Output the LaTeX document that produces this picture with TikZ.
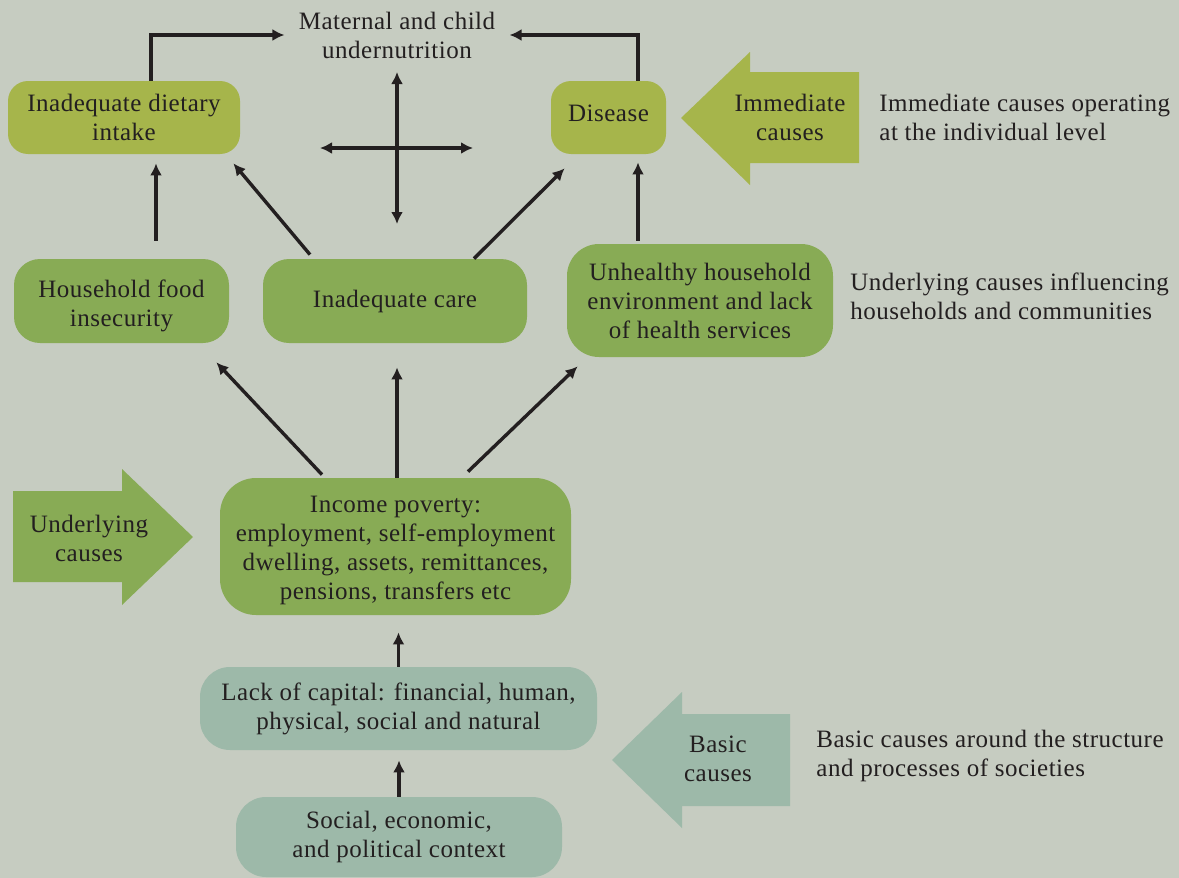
\documentclass[tikz,border=0pt]{standalone}
\usepackage{fontspec}
\setmainfont[LetterSpace=2]{Liberation Serif}
\usetikzlibrary{positioning}
\usetikzlibrary{arrows.meta,calc}
\definecolor{bgcol}{HTML}{C6CCC1}
\definecolor{olive}{HTML}{A6B54B}
\definecolor{leaf}{HTML}{88AB55}
\definecolor{sage}{HTML}{9DB9A9}
\definecolor{ink}{HTML}{231F20}

\begin{document}
\begin{tikzpicture}[x=0.5pt, y=-0.5pt,
  every node/.style={font=\fontsize{12.5}{14.5}\selectfont, text=ink, align=center},
  box/.style={rounded corners=#1, inner sep=2pt},
  immed/.style={box=10pt, fill=olive},
  under/.style={box=13pt, fill=leaf},
  basic/.style={box=15pt, fill=sage},
  note/.style={anchor=west, align=left, inner sep=0pt},
  link/.style={draw=ink, line width=1.7pt, -{Latex[length=6pt,width=6pt]}},
  twoway/.style={link, {Latex[length=6pt,width=6pt]}-{Latex[length=6pt,width=6pt]}}]

	\fill[bgcol] (0,0) rectangle (1179,878);
	\useasboundingbox (0,0) rectangle (1179,878);

	\node[inner sep=7pt] (undernut) at (397,35) {Maternal and child\\undernutrition};

	% immediate causes
	\node[immed, minimum width=116pt, minimum height=36.5pt] (diet) at (124,117.5) {Inadequate dietary\\intake};
	\node[immed, box=10pt, text depth=4pt, minimum width=57.5pt, minimum height=36.5pt] (disease) at (608.5,117.5) {Disease};

	% underlying causes
	\node[under, minimum width=107.5pt, minimum height=42pt] (foodsec) at (121.5,301) {\rule{0pt}{13.5pt}Household food\\insecurity};
	\node[under, minimum width=132pt, minimum height=42pt] (care) at (395,301) {Inadequate care};
	\node[under, box=16pt, minimum width=133pt, minimum height=56.5pt] (envir) at (700,300.5) {Unhealthy household\\environment and lack\\of health services};
	\node[under, box=18pt, minimum width=175.5pt, minimum height=68.5pt] (income) at (395.5,546.5) {\rule{0pt}{12.5pt}Income poverty:\\employment, self-employment\\dwelling, assets, remittances,\\pensions, transfers etc};

	% basic causes
	\node[basic, minimum width=198.5pt, minimum height=41.5pt] (capital) at (398.5,708.5) {Lack of capital: financial, human,\\physical, social and natural};
	\node[basic, minimum width=163pt, minimum height=40pt] (context) at (399,837) {Social, economic,\\and political context};

	% big arrows
	\fill[olive] (681,118) -- (750,52) -- (750,72) -- (859,72) -- (859,163) -- (750,163) -- (750,185) -- cycle;
	\node (immlabel) at (790,117) {Immediate\\causes};
	\fill[leaf] (193,537) -- (122,469) -- (122,491) -- (13,491) -- (13,582) -- (122,582) -- (122,605) -- cycle;
	\node (undlabel) at (89,538) {Underlying\\causes};
	\fill[sage] (612,760) -- (682,692) -- (682,714) -- (790,714) -- (790,806) -- (682,806) -- (682,828) -- cycle;
	\node (baslabel) at (718,759) {Basic\\causes};

	\node[note] (immnote) at (879,117) {Immediate causes operating\\at the individual level};
	\node[note] (undnote) at (850,296.5) {Underlying causes influencing\\households and communities};
	\node[note] (basnote) at (816,755.5) {Basic causes around the structure\\and processes of societies};

	% cross
	\coordinate (crossN) at (397,72);
	\coordinate (crossS) at (397,224);
	\coordinate (crossW) at (320,148);
	\coordinate (crossE) at (473,148);
	\draw[twoway] (crossN) -- (crossS);
	\draw[twoway] (crossW) -- (crossE);

	\draw[link] ($(diet.north)+(27,0)$) |- (undernut.west);
	\draw[link] ($(disease.north)+(29.5,0)$) |- (undernut.east);

	\draw[link] ($(foodsec.north)+(34.5,-18)$) -- ($(diet.south)+(32,9)$);
	\draw[link] ($(care.north)+(-85,-4)$) -- ($(diet.south east)+(-7,9)$);
	\draw[link] ($(care.north)+(79,0)$) -- ($(disease.south west)+(14,14)$);
	\draw[link] ($(envir.north)+(-62,-3)$) -- ($(disease.south)+(29.5,8)$);

	\draw[link] ($(income.north)+(-73.5,-3)$) -- ($(foodsec.south east)+(-13,19)$);
	\draw[link] ($(income.north)+(1.5,0)$) -- ($(care.south)+(2,24)$);
	\draw[link] ($(income.north)+(72.5,-6)$) -- ($(envir.south west)+(11,9)$);

	\draw[link] (capital.north) -- ($(income.south)+(3,17)$);
	\draw[link] (context.north) -- ($(capital.south)+(0.5,10)$);

\end{tikzpicture}
\end{document}
